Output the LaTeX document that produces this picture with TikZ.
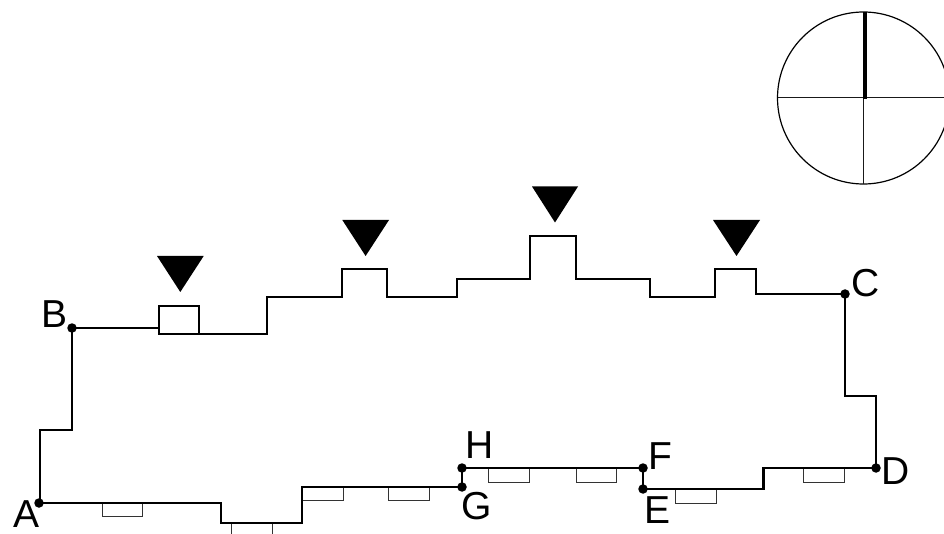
\documentclass[tikz,border=0pt]{standalone}
\usepackage{fontspec}
\setmainfont{Liberation Sans}
\tikzset{
  px/.style={x=1pt,y=-1pt},
  wall/.style={draw=black,line width=2pt,line join=miter},
  heavy/.style={draw=black,line width=2.5pt,line join=miter},
  win/.style={draw=black!80,line width=1pt},
  dot/.style={circle,fill=black,inner sep=0pt,minimum size=9.5pt},
  tri/.style={fill=black,draw=none},
  lab/.style={inner sep=0pt,anchor=base,font=\fontsize{39}{39}\selectfont},
  thin line/.style={draw=black!90,line width=1pt}
}
\begin{document}
\begin{tikzpicture}[px]
\useasboundingbox (0,0) rectangle (944,534);
\clip (0,0) rectangle (944,534);
% small rectangles below the walls
\foreach \a/\b/\c/\d in {102/503/142/516, 302/487/343/500, 388/487/429/500, 488/468/529/482,
  576/468/616/482, 675/489/716/503, 803/468/844/482}
  \draw[win] (\a,\b) rectangle (\c,\d);
\draw[win] (231,523) -- (231,534);
\draw[win] (272,523) -- (272,534);
% corner points
\node[dot] (dA) at (39,503) {};
\node[dot] (dB) at (72,328) {};
\node[dot] (dC) at (845,294) {};
\node[dot] (dD) at (876,468) {};
\node[dot] (dE) at (643,489) {};
\node[dot] (dF) at (643,468) {};
\node[dot] (dG) at (462,487) {};
\node[dot] (dH) at (462,468) {};
% outline
\draw[wall] (dA.center) -- (40,503) -- (40,430) -- (72,430) -- (dB.center);
\draw[wall] (dB.center) -- (159,328);
\draw[wall] (159,306) rectangle (199,334);
\draw[wall] (159,334) -- (267,334) -- (267,297) -- (342,297) -- (342,269.5) -- (387,269.5) -- (387,297)
  -- (456.5,297) -- (456.5,279) -- (530,279) -- (530,236.5) -- (576,236.5) -- (576,279)
  -- (649.5,279) -- (649.5,297) -- (714.5,297) -- (714.5,269.5) -- (755.5,269.5) -- (755.5,294) -- (dC.center);
\draw[wall] (dC.center) -- (845,396) -- (876,396) -- (dD.center);
\draw[wall] (dD.center) -- (762,468);
\draw[heavy] (763.5,467) -- (763.5,489) -- (dE.center);
\draw[wall] (dE.center) -- (dF.center);
\draw[wall] (dF.center) -- (dH.center);
\draw[wall] (dH.center) -- (dG.center);
\draw[heavy] (dG.center) -- (302,487) -- (302,523) -- (221,523) -- (221,503) -- (dA.center);
% triangles
\fill[tri] (157,256) -- (203.7,256) -- (180.3,292) -- cycle;
\fill[tri] (342.3,220) -- (389,220) -- (365.6,256) -- cycle;
\fill[tri] (532,186.5) -- (578,186.5) -- (555,222.5) -- cycle;
\fill[tri] (713,220) -- (760,220) -- (736.5,256) -- cycle;
% labels
\node[lab] (lA) at (27,527) {A};
\node[lab] (lB) at (55,327) {B};
\node[lab] (lC) at (866,296.5) {C};
\node[lab] (lD) at (896,484) {D};
\node[lab] (lE) at (657,523) {E};
\node[lab] (lF) at (660,469) {F};
\node[lab] (lG) at (477,519.5) {G};
\node[lab] (lH) at (480,458) {H};
% compass
\draw[draw=black,line width=1.2pt] (863.5,98) circle (86);
\draw[thin line] (777.5,98) -- (944,98);
\draw[thin line] (863.5,98) -- (863.5,184);
\draw[draw=black,line width=3.8pt] (865,12) -- (865,99);
\end{tikzpicture}
\end{document}
